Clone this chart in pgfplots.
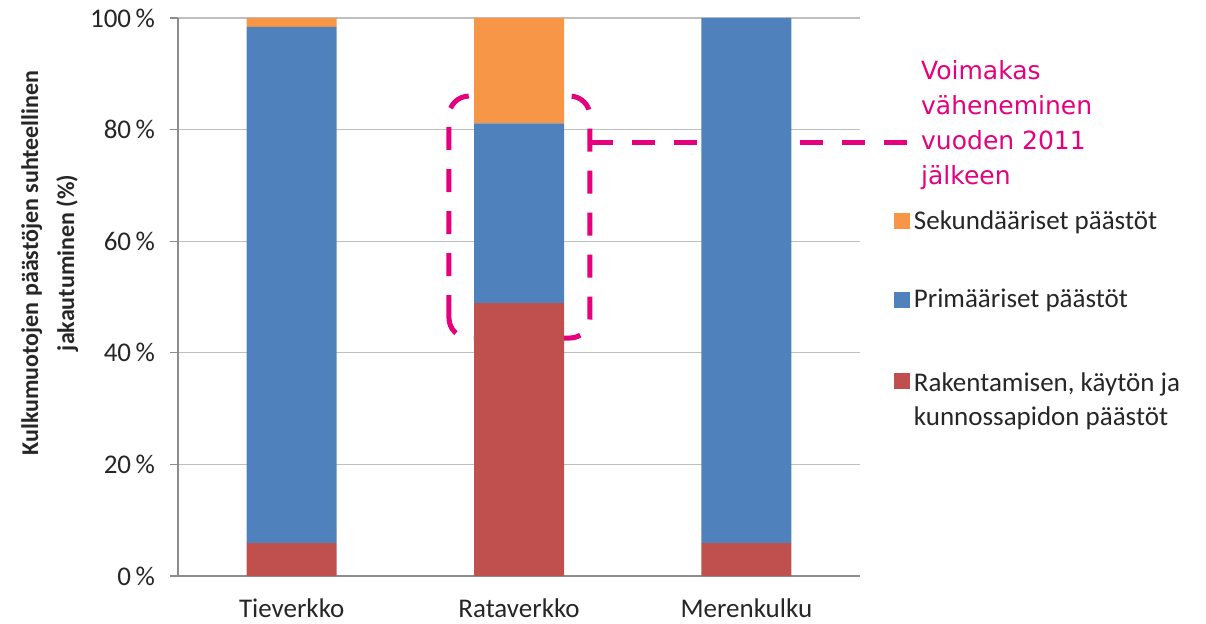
\documentclass[border=0pt]{standalone}
\usepackage{fontspec}
\setmainfont{Carlito}
\newfontfamily\notefont{DejaVu Sans}
\usepackage{pgfplots}
\pgfplotsset{compat=1.18}
\definecolor{sek}{HTML}{F79646}
\definecolor{prim}{HTML}{4F81BD}
\definecolor{rak}{HTML}{C0504D}
\definecolor{korostus}{HTML}{E5007D}
\definecolor{ruudukko}{HTML}{BFBFBF}
\definecolor{akseli}{HTML}{8C8C8C}
\definecolor{teksti}{HTML}{262626}

\begin{document}
\begin{tikzpicture}
\begin{axis}[
  name=ax,
  scale only axis, width=341pt, height=279pt,
  ybar stacked, bar width=45pt,
  xmin=-0.5, xmax=2.5, ymin=0, ymax=100,
  xtick={0,1,2}, xticklabels={Tieverkko,Rataverkko,Merenkulku},
  ytick={0,20,...,100},
  /pgf/number format/assume math mode=true,
  yticklabel={\pgfmathprintnumber{\tick}\,\%},
  axis x line*=bottom, axis y line*=left,
  axis line style={akseli, line width=0.6pt, -},
  ymajorgrids, grid style={ruudukko, line width=0.6pt},
  tick align=outside, major tick length=4pt,
  ytick style={akseli, line width=0.6pt},
  xtick style={draw=none},
  tick label style={font=\fontsize{13.5}{16}\selectfont, text=teksti},
  yticklabel style={xshift=-4pt},
  xticklabel style={yshift=-4pt},
  ylabel={Kulkumuotojen päästöjen suhteellinen\\jakautuminen (\%)},
  ylabel style={at={(axis description cs:-0.188,0.561)}, anchor=center,
    align=center, font=\bfseries\fontsize{12}{18}\selectfont, text=teksti},
  clip=false,
  reverse legend,
  legend image code/.code={\fill[#1,/tikz/.cd] (0pt,-4pt) rectangle (8pt,4pt);},
  legend style={draw=none, fill=none, at={(axis cs:2.621,67)}, anchor=north west,
    font=\fontsize{13.5}{17}\selectfont, text=teksti, row sep=24.5pt,
    cells={anchor=west}},
]
\addplot[fill=rak, draw=none] coordinates {(0,5.9) (1,48.9) (2,5.9)};
\addlegendentry{\begin{tabular}[t]{@{}l@{}}Rakentamisen, käytön ja\\kunnossapidon päästöt\end{tabular}}
\addplot[fill=prim, draw=none] coordinates {(0,92.5) (1,32.2) (2,94.1)};
\addlegendentry{Primääriset päästöt}
\addplot[fill=sek, draw=none] coordinates {(0,1.6) (1,18.9) (2,0)};
\addlegendentry{Sekundääriset päästöt}

% highlight around the railway bar and its note
\draw[korostus, line width=2.5pt, dash pattern=on 11.5pt off 9.5pt, rounded corners=10pt]
  (axis cs:0.692,42.65) rectangle (axis cs:1.312,86.0);
\draw[korostus, line width=2.5pt, dash pattern=on 11.5pt off 9.5pt]
  (axis cs:1.312,77.6) -- (axis cs:2.742,77.6);
\node[anchor=west, align=left, text=korostus, font=\notefont\fontsize{12.5}{17.5}\selectfont]
  at (axis cs:2.738,80.8) {Voimakas\\väheneminen\\vuoden 2011\\jälkeen};
\end{axis}
\pgfresetboundingbox
\path ([shift={(-89pt,-24pt)}]ax.south west) rectangle ([shift={(173pt,9pt)}]ax.north east);
\end{tikzpicture}
\end{document}
